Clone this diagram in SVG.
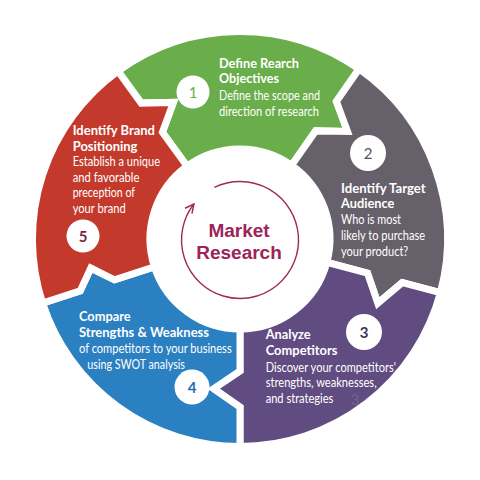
<svg xmlns="http://www.w3.org/2000/svg" width="480" height="480" viewBox="0 0 480 480">
<defs>
<style>
.seg{stroke:#fff;stroke-width:7;stroke-linejoin:miter}
.t{font-family:Lato,"Open Sans",sans-serif;fill:#fff;font-size:12.8px}
.b{font-weight:bold;font-size:13px}
.num{font-family:Lato,"Open Sans",sans-serif;font-size:15px;text-anchor:middle}
.badge{fill:#fff}
.ctr{font-family:"Liberation Sans",Arial,sans-serif;font-weight:bold;font-size:19px;fill:#9c2459;text-anchor:middle}
</style>
<marker id="ah" viewBox="0 0 10 10" refX="9" refY="5" markerWidth="11" markerHeight="11" markerUnits="userSpaceOnUse" orient="auto">
<path d="M1,1 L9,5 L1,9" fill="none" stroke="#a3285a" stroke-width="1.3"/>
</marker>
</defs>
<rect width="480" height="480" fill="#fff"/>

<g id="seg1">
<path class="seg" fill="#6aae4b" d="M118.0,71.1 A207.5,207.5 0 0 1 359.0,69.0 L336.4,101.4 L347.5,131.5 L315.7,130.9 L291.6,165.3 A90,90 0 0 0 187.1,166.2 L162.4,132.2 L173.4,102.4 L141.2,103.1 Z"/>
<circle class="badge" cx="193" cy="92" r="16.5"/>
<text class="num" x="193" y="97.5" fill="#6aae4b">1</text>
<text class="t b" x="219" y="68" textLength="80" lengthAdjust="spacingAndGlyphs">Define Rearch</text>
<text class="t b" x="219" y="83" textLength="60" lengthAdjust="spacingAndGlyphs">Objectives</text>
<text class="t" x="219" y="100" textLength="101" lengthAdjust="spacingAndGlyphs">Define the scope and</text>
<text class="t" x="219" y="116" textLength="100" lengthAdjust="spacingAndGlyphs">direction of research</text>
</g>

<g id="seg2">
<path class="seg" fill="#65606a" d="M359.0,69.0 A207.5,207.5 0 0 1 440.4,292.7 L402.3,282.5 L377.8,303.2 L367.5,273.2 L326.9,262.3 A90,90 0 0 0 291.6,165.3 L315.7,130.9 L347.5,131.5 L336.4,101.4 Z"/>
<circle class="badge" cx="368" cy="153" r="18"/>
<text class="num" x="368" y="158.5" fill="#555259">2</text>
<text class="t b" x="341" y="192.5" textLength="84.7" lengthAdjust="spacingAndGlyphs">Identify Target</text>
<text class="t b" x="341" y="208" textLength="53.3" lengthAdjust="spacingAndGlyphs">Audience</text>
<text class="t" x="341" y="224.3" textLength="60" lengthAdjust="spacingAndGlyphs">Who is most</text>
<text class="t" x="341" y="240" textLength="84" lengthAdjust="spacingAndGlyphs">likely to purchase</text>
<text class="t" x="341" y="255.7" textLength="67.3" lengthAdjust="spacingAndGlyphs">your product?</text>
</g>

<g id="seg3">
<path class="seg" fill="#604c80" d="M440.4,292.7 A207.5,207.5 0 0 1 240,446.5 L240,407 L213.6,388.7 L240,371 L240,329 A90,90 0 0 0 326.9,262.3 L367.5,273.2 L377.8,303.2 L402.3,282.5 Z"/>
<circle class="badge" cx="364" cy="332" r="18"/>
<text class="num" x="364" y="337.5" fill="#3c3550" font-weight="bold">3</text>
<text class="t b" x="265.7" y="339.3" textLength="45" lengthAdjust="spacingAndGlyphs">Analyze</text>
<text class="t b" x="265.7" y="355" textLength="71.7" lengthAdjust="spacingAndGlyphs">Competitors</text>
<text class="t" x="265.7" y="371.7" textLength="130.3" lengthAdjust="spacingAndGlyphs">Discover your competitors'</text>
<text class="t" x="265.7" y="387.3" textLength="111" lengthAdjust="spacingAndGlyphs">strengths, weaknesses,</text>
<text class="t" x="265.7" y="402.7" textLength="67.7" lengthAdjust="spacingAndGlyphs">and strategies</text>
<text class="num" x="355" y="405" font-size="11" fill="#7a6b95" opacity="0.7">3</text>
</g>

<g id="seg4">
<path class="seg" fill="#2b80c1" d="M240,446.5 A207.5,207.5 0 0 1 42.6,303.1 L80.2,290.9 L90.8,268.0 L114.5,279.8 L154.4,266.8 A90,90 0 0 0 240,329 L240,371 L213.6,388.7 L240,407 Z"/>
<circle class="badge" cx="192" cy="387" r="17.5"/>
<text class="num" x="192" y="392.5" fill="#2b6cb0" font-weight="bold">4</text>
<text class="t b" x="79" y="321" textLength="51.7" lengthAdjust="spacingAndGlyphs">Compare</text>
<text class="t b" x="79" y="337.3" textLength="130" lengthAdjust="spacingAndGlyphs">Strengths &amp; Weakness</text>
<text class="t" x="79" y="353.3" textLength="152.7" lengthAdjust="spacingAndGlyphs">of competitors to your business</text>
<text class="t" x="87.3" y="369.3" textLength="97.7" lengthAdjust="spacingAndGlyphs">using SWOT analysis</text>
</g>

<g id="seg5">
<path class="seg" fill="#c33a2c" d="M42.6,303.1 A207.5,207.5 0 0 1 118.0,71.1 L141.2,103.1 L173.4,102.4 L162.4,132.2 L187.1,166.2 A90,90 0 0 0 154.4,266.8 L114.5,279.8 L90.8,268.0 L80.2,290.9 Z"/>
<circle class="badge" cx="83" cy="236" r="16.5"/>
<text class="num" x="83" y="241.5" fill="#7a1f48" font-weight="bold">5</text>
<text class="t b" x="72.7" y="134.5" textLength="82.3" lengthAdjust="spacingAndGlyphs">Identify Brand</text>
<text class="t b" x="72.7" y="150.5" textLength="64.7" lengthAdjust="spacingAndGlyphs">Positioning</text>
<text class="t" x="72.7" y="166" textLength="87.3" lengthAdjust="spacingAndGlyphs">Establish a unique</text>
<text class="t" x="72.7" y="181.7" textLength="66.7" lengthAdjust="spacingAndGlyphs">and favorable</text>
<text class="t" x="72.7" y="196.7" textLength="62.3" lengthAdjust="spacingAndGlyphs">preception of</text>
<text class="t" x="72.7" y="212.7" textLength="53" lengthAdjust="spacingAndGlyphs">your brand</text>
</g>

<g id="connectors">
<path d="M214.4,187.4 A58.5,58.5 0 1 1 193.9,204.0" fill="none" stroke="#a3285a" stroke-width="1.4" marker-end="url(#ah)"/>
</g>

<g id="center">
<text class="ctr" x="239" y="237.3">Market</text>
<text class="ctr" x="239" y="258.7">Research</text>
</g>
</svg>
